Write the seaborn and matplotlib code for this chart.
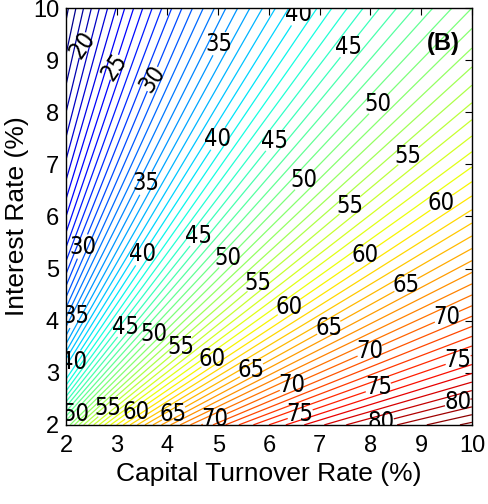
import numpy as np
import matplotlib
matplotlib.use('Agg')
import matplotlib.pyplot as plt
from matplotlib.colors import Normalize
import seaborn as sns

# grid of the two rates (%)
turnover = np.linspace(2, 10, 161)
interest = np.linspace(2, 10, 161)

# contour levels and labelled levels
levels = np.arange(17, 84, 1)
label_levels = np.arange(20, 85, 5)

# where the contour labels sit (turnover, interest)
label_spots = [
    (2.32, 9.29), (3.0, 8.85), (3.75, 8.62),
    (5.07, 9.29), (6.47, 9.95), (7.64, 9.2), (8.23, 8.08),
    (5.03, 7.47), (6.16, 7.41), (6.73, 6.66), (8.78, 7.12), (9.43, 6.22),
    (3.65, 6.6), (7.83, 5.93), (7.91, 5.24),
    (2.38, 5.4), (3.55, 5.25), (4.62, 5.62), (5.2, 5.2),
    (2.22, 4.07), (5.78, 4.72), (8.72, 4.65),
    (3.16, 3.9), (3.7, 3.77), (4.27, 3.5), (4.88, 3.26), (5.63, 3.09),
    (6.38, 4.27), (7.17, 3.88), (9.51, 4.07), (7.95, 3.5), (9.72, 3.27),
    (6.44, 2.79), (8.14, 2.76), (9.72, 2.43),
    (2.17, 3.2), (2.2, 2.2), (2.85, 2.3), (3.38, 2.25), (4.1, 2.25),
    (4.9, 2.19), (6.6, 2.25), (8.19, 2.13),
]

sns.set_style('white')
plt.rcParams['font.family'] = ['Liberation Sans', 'DejaVu Sans']
plt.rcParams['text.color'] = 'k'
plt.rcParams['axes.labelcolor'] = 'k'

X, Y = np.meshgrid(turnover, interest)
Z = 100 * X / (X + Y)

fig, ax = plt.subplots(figsize=(4.89, 5.04), dpi=100)
fig.subplots_adjust(left=0.135, right=0.965, bottom=0.157, top=0.984)
ax.set_xlim(2, 10)
ax.set_ylim(2, 10)

norm = Normalize(vmin=levels.min(), vmax=levels.max())
plain = [v for v in levels if v not in label_levels]
ax.contour(X, Y, Z, levels=plain, cmap='jet', norm=norm, linewidths=0.9)
cs = ax.contour(X, Y, Z, levels=label_levels, cmap='jet', norm=norm, linewidths=0.9)
texts = cs.clabel(manual=label_spots, inline=True, inline_spacing=0,
                  fontsize=17, colors='k', fmt='%d')
for i, t in enumerate(texts):
    t.set_family(['DejaVu Sans'])
    t.set_fontstretch('condensed')
    t.set_rotation(55 if i < 3 else 0)
    t.set_clip_on(True)

ax.set_xticks(range(2, 11))
ax.set_yticks(range(2, 11))
ax.tick_params(direction='in', top=True, right=True, length=5, width=0.8,
               labelsize=17, colors='k')
ax.tick_params(axis='x', pad=7)
ax.tick_params(axis='y', pad=5)
for s in ax.spines.values():
    s.set_color('k')
    s.set_linewidth(1)

ax.set_xlabel('Capital Turnover Rate (%)', fontsize=19, labelpad=4)
ax.set_ylabel('Interest Rate (%)', fontsize=19, labelpad=3)
ax.text(0.93, 0.916, '(B)', transform=ax.transAxes, fontsize=17,
        fontweight='bold', ha='center', va='center')

fig.savefig('out.png', dpi=100)
